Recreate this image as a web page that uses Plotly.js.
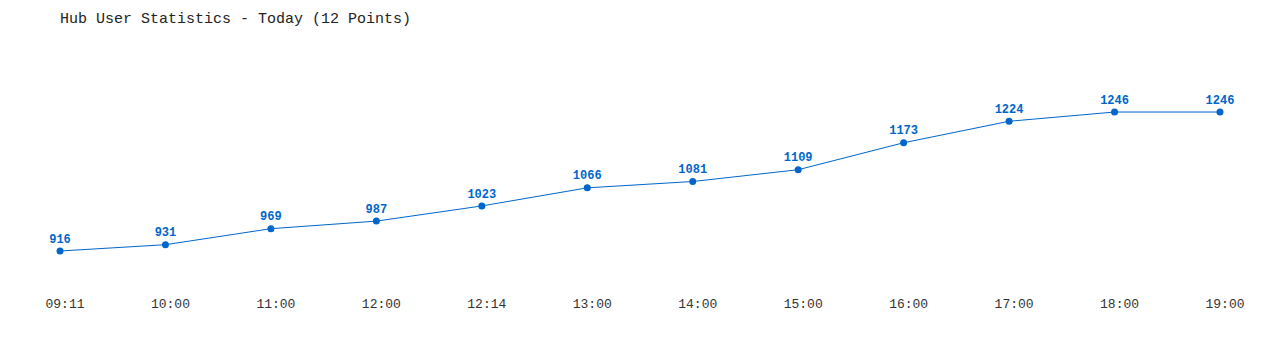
<!DOCTYPE html>
<html>
<head>
<meta charset="utf-8">
<script src="https://cdn.plot.ly/plotly-3.0.1.min.js"></script>
<style>html,body{margin:0;padding:0;background:#fff;}#chart{width:1280px;height:350px;}</style>
</head>
<body>
<div id="chart"></div>
<script>
const times = ["09:11","10:00","11:00","12:00","12:14","13:00","14:00","15:00","16:00","17:00","18:00","19:00"];
const users = [916, 931, 969, 987, 1023, 1066, 1081, 1109, 1173, 1224, 1246, 1246];
const chartTitle = "Hub User Statistics - Today (12 Points)";

const lineColor = "#0066cc";
const mono = "Liberation Mono, DejaVu Sans Mono, monospace";

const trace = {
  x: times,
  y: users,
  type: "scatter",
  mode: "lines+markers+text",
  text: users.map(String),
  textposition: "top center",
  textfont: {family: mono, size: 12, color: lineColor, weight: "bold"},
  line: {color: lineColor, width: 1},
  marker: {color: lineColor, size: 7},
  hoverinfo: "x+y",
  cliponaxis: false
};

const layout = {
  width: 1280,
  height: 350,
  margin: {l: 20, r: 20, t: 60, b: 65},
  paper_bgcolor: "#ffffff",
  plot_bgcolor: "#ffffff",
  showlegend: false,
  title: {
    text: chartTitle,
    font: {family: mono, size: 15, color: "#222222"},
    x: 60/1280, xref: "container", xanchor: "left",
    y: 1 - 18/350, yref: "container", yanchor: "middle"
  },
  xaxis: {
    type: "category",
    range: [-0.3793, 11.3793],
    showgrid: false, zeroline: false, showline: false,
    ticks: "",
    ticklabelstandoff: 9,
    ticklabelshift: 5,
    tickfont: {family: mono, size: 13, color: "#333333"},
    fixedrange: true
  },
  yaxis: {
    range: [835.3, 1369.5],
    showgrid: false, zeroline: false, showline: false,
    showticklabels: false, ticks: "",
    fixedrange: true
  }
};

Plotly.newPlot("chart", [trace], layout, {displayModeBar: false, staticPlot: true});
</script>
</body>
</html>
